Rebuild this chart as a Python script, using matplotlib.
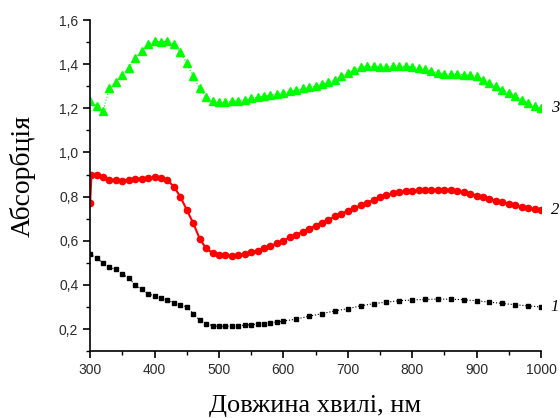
import matplotlib.pyplot as plt
import numpy as np

# curve 1 (black squares)
wl1 = [300, 310, 320, 330, 340, 350, 360, 370, 380, 390, 400, 410, 420, 430, 440, 450,
       460, 470, 480, 490, 500, 510, 520, 530, 540, 550, 560, 570, 580, 590, 600, 620,
       640, 660, 680, 700, 720, 740, 760, 780, 800, 820, 840, 860, 880, 900, 920, 940,
       960, 980, 1000]
abs1 = [0.54, 0.52, 0.50, 0.48, 0.47, 0.45, 0.43, 0.40, 0.38, 0.36, 0.35, 0.34, 0.33,
        0.32, 0.31, 0.30, 0.27, 0.24, 0.225, 0.215, 0.212, 0.212, 0.213, 0.215, 0.217,
        0.22, 0.222, 0.225, 0.228, 0.232, 0.236, 0.245, 0.258, 0.27, 0.282, 0.292,
        0.305, 0.315, 0.322, 0.328, 0.332, 0.334, 0.336, 0.335, 0.333, 0.328, 0.322,
        0.316, 0.31, 0.305, 0.30]

# curve 2 (red)
wl2 = [300, 302, 310, 320, 330, 340, 350, 360, 370, 380, 390, 400, 410, 420, 430, 440,
       450, 460, 470, 480, 490, 500, 510, 520, 530, 540, 550, 560, 570, 580, 590, 600,
       610, 620, 630, 640, 650, 660, 670, 680, 690, 700, 710, 720, 730, 740, 750, 760,
       770, 780, 790, 800, 810, 820, 830, 840, 850, 860, 870, 880, 890, 900, 910, 920,
       930, 940, 950, 960, 970, 980, 990, 1000]
abs2 = [0.77, 0.90, 0.90, 0.89, 0.875, 0.875, 0.873, 0.877, 0.88, 0.882, 0.885, 0.888,
        0.885, 0.875, 0.845, 0.80, 0.74, 0.68, 0.61, 0.565, 0.545, 0.537, 0.535, 0.533,
        0.537, 0.542, 0.547, 0.555, 0.565, 0.575, 0.588, 0.60, 0.615, 0.628, 0.64, 0.655,
        0.668, 0.682, 0.695, 0.71, 0.722, 0.735, 0.748, 0.76, 0.772, 0.785, 0.797, 0.807,
        0.815, 0.82, 0.825, 0.827, 0.83, 0.83, 0.83, 0.832, 0.832, 0.83, 0.825, 0.82,
        0.813, 0.805, 0.797, 0.79, 0.782, 0.775, 0.767, 0.76, 0.752, 0.747, 0.743, 0.74]

# curve 3 (green triangles)
wl3 = [300, 310, 320, 330, 340, 350, 360, 370, 380, 390, 400, 410, 420, 430, 440, 450,
       460, 470, 480, 490, 500, 510, 520, 530, 540, 550, 560, 570, 580, 590, 600, 610,
       620, 630, 640, 650, 660, 670, 680, 690, 700, 710, 720, 730, 740, 750, 760, 770,
       780, 790, 800, 810, 820, 830, 840, 850, 860, 870, 880, 890, 900, 910, 920, 930,
       940, 950, 960, 970, 980, 990, 1000]
abs3 = [1.235, 1.21, 1.19, 1.29, 1.32, 1.35, 1.385, 1.43, 1.46, 1.49, 1.505, 1.50,
        1.505, 1.49, 1.455, 1.405, 1.345, 1.29, 1.25, 1.232, 1.227, 1.228, 1.232, 1.235,
        1.24, 1.245, 1.25, 1.255, 1.26, 1.265, 1.27, 1.277, 1.283, 1.29, 1.295, 1.30,
        1.31, 1.32, 1.33, 1.345, 1.36, 1.375, 1.388, 1.39, 1.39, 1.388, 1.388, 1.39,
        1.39, 1.39, 1.388, 1.385, 1.38, 1.37, 1.36, 1.355, 1.355, 1.355, 1.353, 1.35,
        1.345, 1.33, 1.315, 1.30, 1.285, 1.27, 1.255, 1.24, 1.225, 1.21, 1.2]

curve_labels = ['1', '2', '3']

fig = plt.figure(figsize=(5.6, 4.18), dpi=100)
ax = fig.add_axes([0.161, 0.160, 0.805, 0.792])

ax.plot(wl1, abs1, color='black', marker='s', markersize=3.5, linestyle=':', linewidth=0.8)
ax.plot(wl2, abs2, color='red', marker='o', markersize=4.5, linestyle='-', linewidth=1.5)
ax.plot(wl3, abs3, color='#00ff00', marker='^', markersize=6, linestyle=':', linewidth=0.8)

for lab, y in zip(curve_labels, [abs1[-1], abs2[-1], abs3[-1]]):
    ax.annotate(lab, (1000, y), xytext=(7, 0), textcoords='offset points',
                ha='left', va='center', fontsize=12, fontstyle='italic',
                family='Liberation Serif', annotation_clip=False)

ax.set_xlim(300, 1000)
ax.set_ylim(0.1, 1.6)
ax.set_xticks(np.arange(300, 1001, 100))
ax.set_xticks(np.arange(300, 1001, 50), minor=True)
ax.set_yticks([0.2, 0.4, 0.6, 0.8, 1.0, 1.2, 1.4, 1.6])
ax.set_yticks(np.arange(0.1, 1.61, 0.1), minor=True)
ax.set_yticklabels(['0,2', '0,4', '0,6', '0,8', '1,0', '1,2', '1,4', '1,6'])

ax.spines['top'].set_visible(False)
ax.spines['right'].set_visible(False)
ax.spines['left'].set_linewidth(1.2)
ax.spines['bottom'].set_linewidth(1.2)
ax.tick_params(which='major', direction='out', length=5, width=1.2,
               labelsize=10, labelcolor='#2a2a2a')
ax.tick_params(which='minor', direction='out', length=3, width=1.0)
for t in ax.get_xticklabels() + ax.get_yticklabels():
    t.set_family('Liberation Sans')

ax.set_xlabel('Довжина хвилі, нм', family='Liberation Serif', fontsize=19, labelpad=13)
ax.set_ylabel('Абсорбція', family='Liberation Serif', fontsize=20)
ax.yaxis.set_label_coords(-0.12, 0.53)

fig.savefig('out.png', dpi=100)
